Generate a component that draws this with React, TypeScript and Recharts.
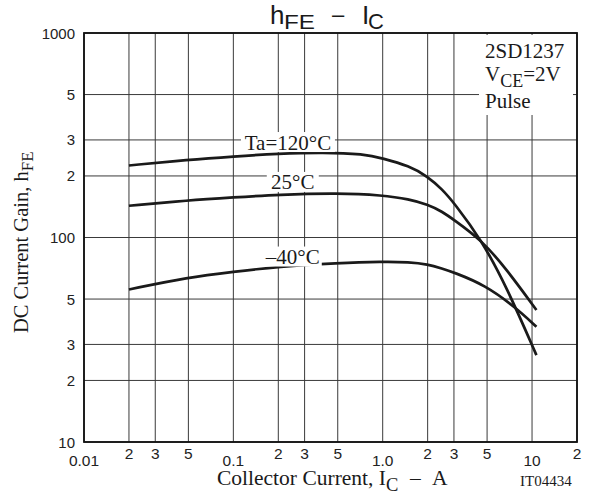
import { LineChart, Line, XAxis, YAxis, CartesianGrid, ReferenceDot } from 'recharts'

// collector current (A) and DC current gain
const icHot = [0.02, 0.05, 0.1, 0.2, 0.4, 0.75, 1, 1.5, 2, 2.5, 3, 4.6, 6.75, 10.7]
const gainHot = [225, 240, 249, 257, 261, 256, 244, 224, 199, 172, 148, 97, 57.4, 26.6]

const icRoom = [0.02, 0.05, 0.1, 0.2, 0.5, 1, 1.5, 2, 2.5, 3, 4.6, 6.75, 10.7]
const gainRoom = [143, 152, 157, 162, 165, 161, 154, 145, 134, 122, 97, 70, 44.2]

const icCold = [0.02, 0.05, 0.1, 0.2, 0.5, 1, 1.5, 2, 2.5, 3, 4.85, 7.67, 10.7]
const gainCold = [55.7, 63.9, 68, 72, 75, 76.2, 75.8, 74, 70.5, 67.5, 58.5, 45.8, 36.6]

const curveLabels = ['Ta=120°C', '25°C', '–40°C']
const labelIc = [0.232, 0.25, 0.25]
const labelGain = [293, 187, 80.7]
const labelWidths = [94, 52, 58]

const xTicks = [0.01, 0.02, 0.03, 0.05, 0.1, 0.2, 0.3, 0.5, 1, 2, 3, 5, 10, 20]
const yTicks = [10, 20, 30, 50, 100, 200, 300, 500, 1000]
const xDecades = [0.01, 0.1, 1, 10]
const xDecadeLabels = ['0.01', '0.1', '1.0', '10']
const yDecades = [10, 100, 1000]

const SERIF = "'Liberation Serif', 'Times New Roman', serif"
const SANS = "'Liberation Sans', Arial, sans-serif"
const INK = '#1a1a1a'

const toPoints = (xs: number[], ys: number[]) => xs.map((x, i) => ({ x, y: ys[i] }))

const mantissa = (v: number) => String(Math.round(v / Math.pow(10, Math.floor(Math.log10(v) + 1e-9))))

function XTick(props: any) {
  const { x, y, payload } = props
  const v = payload.value
  const d = xDecades.indexOf(v)
  const isDecade = d >= 0
  return (
    <text x={x} y={y + (isDecade ? 23.5 : 16.5)} textAnchor="middle" fontSize={15.5} fontFamily={SANS} fill="#222">
      {isDecade ? xDecadeLabels[d] : mantissa(v)}
    </text>
  )
}

function YTick(props: any) {
  const { x, y, payload } = props
  const v = payload.value
  return (
    <text x={x - 9} y={y + 5.5} textAnchor="end" fontSize={15} fontFamily={SANS} fill="#222">
      {yDecades.includes(v) ? String(v) : mantissa(v)}
    </text>
  )
}

function CurveLabel({ cx, cy, text, w }: any) {
  return (
    <g>
      <rect x={cx - w / 2} y={cy - 10} width={w} height={20} fill="#fff" />
      <text x={cx} y={cy + 7.5} textAnchor="middle" fontSize={21} fontFamily={SERIF} fill={INK}>
        {text}
      </text>
    </g>
  )
}

export default function App() {
  const series = [toPoints(icHot, gainHot), toPoints(icRoom, gainRoom), toPoints(icCold, gainCold)]
  return (
    <div style={{ position: 'absolute', left: 0, top: 0, width: 597, height: 495, background: '#fff' }}>
      <LineChart width={597} height={495} margin={{ top: 33, right: 20, left: 0, bottom: 0 }}>
        <CartesianGrid stroke="#3a3a3a" strokeWidth={1} />
        <XAxis
          dataKey="x"
          type="number"
          scale="log"
          domain={[0.01, 20]}
          ticks={xTicks}
          interval={0}
          allowDataOverflow
          height={53}
          tickSize={0}
          tickMargin={0}
          tickLine={false}
          axisLine={false}
          tick={<XTick />}
        />
        <YAxis
          dataKey="y"
          type="number"
          scale="log"
          domain={[10, 1000]}
          ticks={yTicks}
          interval={0}
          allowDataOverflow
          width={84}
          tickSize={0}
          tickMargin={0}
          tickLine={false}
          axisLine={false}
          tick={<YTick />}
        />
        {series.map((pts, i) => (
          <Line
            key={curveLabels[i]}
            data={pts}
            dataKey="y"
            type="basis"
            stroke={INK}
            strokeWidth={2.7}
            dot={false}
            isAnimationActive={false}
          />
        ))}
        {curveLabels.map((t, i) => (
          <ReferenceDot
            key={t}
            x={labelIc[i]}
            y={labelGain[i]}
            r={0}
            ifOverflow="visible"
            shape={(p: any) => <CurveLabel cx={p.cx} cy={p.cy} text={t} w={labelWidths[i]} />}
          />
        ))}
      </LineChart>
      <svg width={597} height={495} style={{ position: 'absolute', left: 0, top: 0, pointerEvents: 'none' }}>
        {/* plot frame */}
        <rect x={84} y={33} width={493} height={409} fill="none" stroke="#111" strokeWidth={1.8} />
        {/* title */}
        <text x={270} y={23.5} fontSize={26} fontFamily={SANS} fill={INK}>h</text>
        <text x={284} y={28.5} fontSize={21} fontFamily={SANS} fill={INK} textLength={31} lengthAdjust="spacingAndGlyphs">FE</text>
        <text x={332} y={22} fontSize={22} fontFamily={SANS} fill={INK}>–</text>
        <text x={362} y={23.5} fontSize={26} fontFamily={SANS} fill={INK}>I</text>
        <text x={368} y={28.5} fontSize={22} fontFamily={SANS} fill={INK}>C</text>
        {/* part box */}
        <rect x={479} y={35} width={94} height={80} fill="#fff" />
        <text x={485} y={58} fontSize={21} fontFamily={SERIF} fill={INK}>2SD1237</text>
        <text x={485} y={81} fontSize={21} fontFamily={SERIF} fill={INK}>
          V<tspan fontSize={18} dy={6}>CE</tspan><tspan dy={-6}>=2V</tspan>
        </text>
        <text x={485} y={108} fontSize={21} fontFamily={SERIF} fill={INK}>Pulse</text>
        {/* axis titles */}
        <text x={217} y={485} fontSize={21.5} fontFamily={SERIF} fill={INK}>
          Collector Current, I<tspan fontSize={18.5} dy={6}>C</tspan>
          <tspan x={410} dy={-6}>–</tspan>
          <tspan x={432}>A</tspan>
        </text>
        <text x={520} y={486} fontSize={15} fontFamily={SERIF} fill={INK}>IT04434</text>
        <text transform="translate(28, 333) rotate(-90)" x={0} y={0} fontSize={20.5} fontFamily={SERIF} fill={INK}>
          DC Current Gain, h<tspan fontSize={17} dy={5}>FE</tspan>
        </text>
      </svg>
    </div>
  )
}
